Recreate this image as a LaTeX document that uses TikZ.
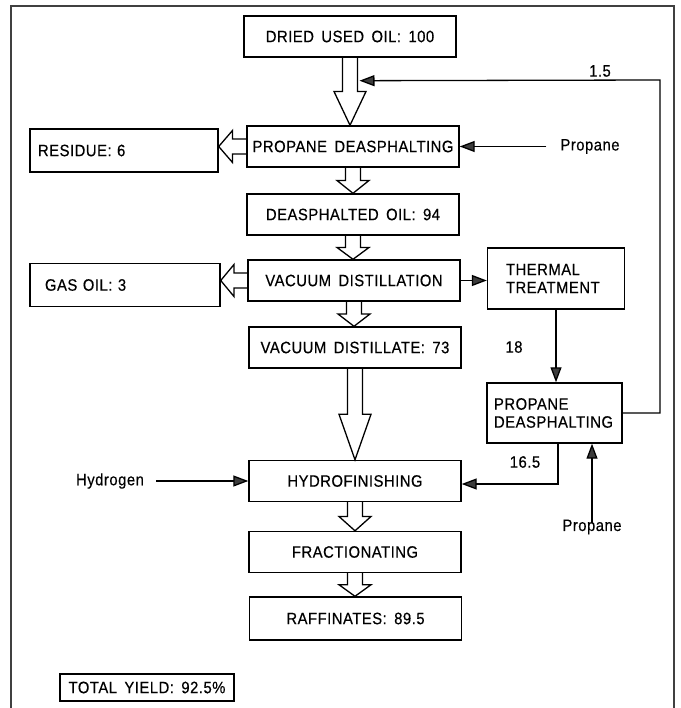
\documentclass[tikz,border=0pt]{standalone}
\usepackage{fontspec}
\setmainfont{Liberation Sans}[LetterSpace=3,WordSpace=1.6,FakeStretch=0.9,FakeBold=0.4]
\usetikzlibrary{calc,arrows.meta}

\definecolor{tipgray}{RGB}{60,60,60}

\tikzset{
  unit/.style={draw, line width=1.4pt, minimum width=212pt, minimum height=41pt, inner sep=0pt, font=\fontsize{16.5}{19}\selectfont},
  product/.style={unit, minimum width=190pt, minimum height=43pt, text width=172pt, align=left},
  sideunit/.style={unit, minimum width=137pt, minimum height=61pt, text width=117pt, align=left, font=\fontsize{16.5}{18}\selectfont},
  feed/.style={inner sep=2pt, font=\fontsize{16.5}{19}\selectfont},
  flow/.style={line width=1.3pt, -{Triangle[length=15pt,width=11pt,fill=tipgray]}},
  hollow/.style={line width=1.3pt, line join=miter}
}

% open block arrow between two points
\newcommand{\blockarrow}[2]{%
  \path (#1) coordinate (ba-s) (#2) coordinate (ba-t);
  \coordinate (ba-m) at ($(ba-s)!0.5!(ba-t)$);
  \draw[hollow] ($(ba-s)!7.5pt!90:(ba-t)$) -- ($(ba-m)!7.5pt!90:(ba-t)$)
    -- ($(ba-m)!16pt!90:(ba-t)$) -- (ba-t) -- ($(ba-m)!16pt!-90:(ba-t)$)
    -- ($(ba-m)!7.5pt!-90:(ba-t)$) -- ($(ba-s)!7.5pt!-90:(ba-t)$);}

\begin{document}
\begin{tikzpicture}[x=1pt,y=-1pt]
    \useasboundingbox (0,0) rectangle (680,708);
    % frame
    \draw[line width=1.2pt, black!75] (11,730) -- (11,6) -- (674,6) -- (674,730);

    % main line
    \node[unit] (dried) at (350,36.5) {DRIED USED OIL: 100};
    \node[unit] (pd1) at (353,146.5) {PROPANE DEASPHALTING};
    \node[unit] (dao) at (353,214.5) {DEASPHALTED OIL: 94};
    \node[unit] (vd) at (354,280.5) {VACUUM DISTILLATION};
    \node[unit] (vdist) at (355,347.5) {VACUUM DISTILLATE: 73};
    \node[unit] (hf) at (355,481) {HYDROFINISHING};
    \node[unit] (fr) at (355,552) {FRACTIONATING};
    \node[unit, minimum height=43pt] (raf) at (355.5,618.5) {RAFFINATES: 89.5};

    % side products
    \node[product, minimum width=188pt] (residue) at (124,150.5) {RESIDUE: 6};
    \node[product, text width=160pt] (gasoil) at (125,285) {GAS OIL: 3};

    % recycle loop
    \node[sideunit, text width=100pt] (thermal) at (556,278.5) {THERMAL\\TREATMENT};
    \node[sideunit, minimum width=135pt, minimum height=60pt, text width=121pt] (pd2) at (554.5,413) {PROPANE\\DEASPHALTING};

    % feeds and labels
    \node[feed] (prop1) at (590,146.5) {Propane};
    \node[feed] (prop2) at (592,527) {Propane};
    \node[feed] (hyd) at (110,481) {Hydrogen};
    \node[feed] (l15) at (600,71) {1.5};
    \node[feed] (l18) at (514,347) {18};
    \node[feed] (l165) at (525,462) {16.5};

    \node[unit, minimum width=174pt, minimum height=27pt, line width=1.3pt] (total) at (147,687.5) {TOTAL YIELD: 92.5\%};

    % open arrows
    \blockarrow{dried.south}{dried.south |- pd1.north}
    \blockarrow{pd1.south}{pd1.south |- dao.north}
    \blockarrow{dao.south}{dao.south |- vd.north}
    \blockarrow{vd.south}{vd.south |- vdist.north}
    \blockarrow{vdist.south}{vdist.south |- hf.north}
    \blockarrow{hf.south}{hf.south |- fr.north}
    \blockarrow{fr.south}{fr.south |- raf.north}
    \blockarrow{pd1.west}{pd1.west -| residue.east}
    \blockarrow{vd.west}{vd.west -| gasoil.east}

    % solid arrows
    \coordinate (mix) at ($(dried.south)+(9.5,23)$);
    \coordinate (loop) at (660,80);
    \draw[flow] ([xshift=-12pt]prop1.west) -- (pd1.east);
    \draw[flow] (vd.east) -- (vd.east -| thermal.west);
    \draw[flow] (thermal.south) -- (thermal.south |- pd2.north);
    \draw[flow] (pd2.east) -| (loop) -- (mix);
    \draw[flow] ([xshift=3.5pt]pd2.south) |- ([yshift=-3pt]hf.east);
    \draw[flow] ([yshift=-6pt]prop2.north) -- (prop2.north |- pd2.south);
    \draw[flow] ([xshift=10pt]hyd.east) -- (hf.west);

\end{tikzpicture}
\end{document}
